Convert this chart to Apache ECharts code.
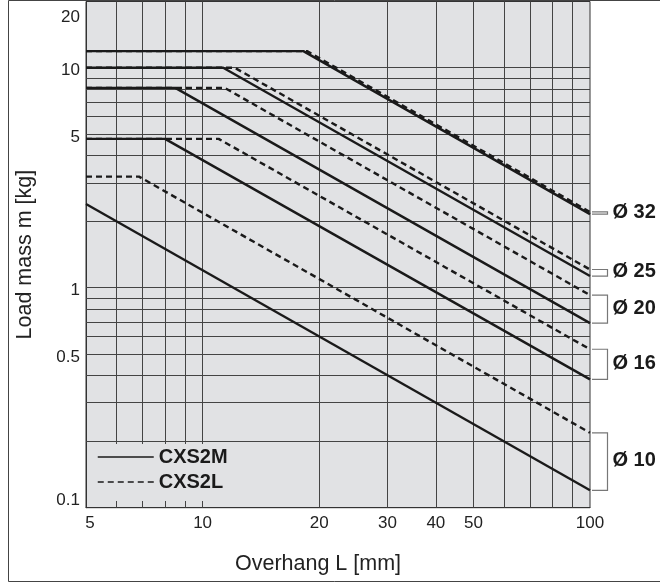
<!DOCTYPE html>
<html>
<head>
<meta charset="utf-8">
<script src="https://cdn.jsdelivr.net/npm/echarts@6/dist/echarts.min.js"></script>
<style>
html,body{margin:0;padding:0;background:#fff;}
#c{width:660px;height:582px;}
</style>
</head>
<body>
<div id="c"></div>
<script>
// ---- data ----
const xTickLabels = [5, 10, 20, 30, 40, 50, 100];
const yTickLabels = [0.1, 0.5, 1, 5, 10, 20];
const xGridValues = [6, 7, 8, 9, 10, 20, 30, 40, 50, 60, 70, 80, 90];
const yGridValues = [0.2, 0.3, 0.4, 0.5, 0.6, 0.7, 0.8, 0.9, 1, 2, 3, 4, 5, 6, 7, 8, 9, 10];

const legendNames = ['CXS2M', 'CXS2L'];
const boreLabels = ['Ø 32', 'Ø 25', 'Ø 20', 'Ø 16', 'Ø 10'];

// [overhang L (mm), load mass m (kg)]
const phi32M = [[5, 11.9], [18.2, 11.9], [100, 2.16]];
const phi32L = [[5, 11.9], [18.6, 11.9], [100, 2.21]];
const phi25M = [[5, 10], [11.3, 10], [100, 1.13]];
const phi25L = [[5, 10], [12.1, 10], [100, 1.21]];
const phi20M = [[5, 8.1], [8.5, 8.1], [100, 0.69]];
const phi20L = [[5, 8.1], [11.4, 8.1], [100, 0.925]];
const phi16M = [[5, 4.75], [8.0, 4.75], [100, 0.383]];
const phi16L = [[5, 4.75], [11.0, 4.75], [100, 0.525]];
const phi10M = [[5, 2.4], [100, 0.12]];
const phi10L = [[5, 3.2], [6.85, 3.2], [100, 0.219]];

const solidSets = [phi32M, phi25M, phi20M, phi16M, phi10M];
const dashedSets = [phi32L, phi25L, phi20L, phi16L, phi10L];

// ---- chart ----
const FONT = '"Liberation Sans", Arial, Helvetica, sans-serif';
const INK = '#1a1a1a';
const chart = echarts.init(document.getElementById('c'), null, {renderer: 'canvas'});

function mkSeries(name, data, dashed) {
  return {
    type: 'line', name: name, data: data, symbol: 'none', silent: true,
    animation: false, z: dashed ? 3 : 4,
    itemStyle: {color: INK},
    lineStyle: {color: INK, width: 2.4, type: dashed ? [6, 4] : 'solid'}
  };
}

const series = [];
dashedSets.forEach(d => series.push(mkSeries(legendNames[1], d, true)));
solidSets.forEach(d => series.push(mkSeries(legendNames[0], d, false)));

series.push({
  type: 'line', name: 'grid', data: [], silent: true, animation: false,
  markLine: {
    z: 1, silent: true, animation: false, symbol: ['none', 'none'],
    label: {show: false},
    lineStyle: {color: '#444', width: 1, type: 'solid'},
    emphasis: {disabled: true},
    data: xGridValues.map(v => ({xAxis: v})).concat(yGridValues.map(v => ({yAxis: v})))
  }
});

function fmt(v) { return String(+(+v).toPrecision(6)); }

const option = {
  animation: false,
  backgroundColor: '#ffffff',
  grid: {
    left: 86, right: 70, top: 1.5, bottom: 74.3,
    show: true, backgroundColor: '#e1e2e4', borderColor: '#333', borderWidth: 1
  },
  legend: {
    data: legendNames,
    orient: 'vertical', left: 87, top: 444,
    padding: [3, 20, 9, 10],
    backgroundColor: '#e1e2e4',
    itemWidth: 56, itemHeight: 14, itemGap: 5,
    selectedMode: false,
    itemStyle: {opacity: 0},
    lineStyle: {width: 1.5, color: INK},
    textStyle: {fontFamily: FONT, fontWeight: 'bold', fontSize: 20, color: INK}
  },
  xAxis: {
    type: 'log', logBase: 10, min: 5, max: 100,
    axisLine: {show: true, lineStyle: {color: '#333', width: 1}},
    axisTick: {show: false},
    splitLine: {show: false},
    axisLabel: {
      customValues: xTickLabels, margin: 7,
      fontFamily: FONT, fontSize: 17, color: '#222',
      formatter: v => (fmt(v) === '5' ? '{f|5}' : fmt(v)),
      rich: {f: {fontFamily: FONT, fontSize: 17, color: '#222', padding: [0, 0, 0, 8]}}
    },
    name: 'Overhang L [mm]', nameLocation: 'middle', nameGap: 45,
    nameTextStyle: {fontFamily: FONT, fontSize: 21.5, color: '#222', padding: [0, 40, 0, 0]}
  },
  yAxis: {
    type: 'log', logBase: 10, min: 0.1, max: 20,
    axisLine: {show: true, lineStyle: {color: '#333', width: 1}},
    axisTick: {show: false},
    splitLine: {show: false},
    axisLabel: {
      customValues: yTickLabels, margin: 6,
      fontFamily: FONT, fontSize: 17, color: '#222',
      formatter: v => {
        const s = fmt(v);
        if (s === '20') return '{t|' + s + '}';
        if (s === '0.1') return '{b|' + s + '}';
        return '{n|' + s + '}';
      },
      rich: {
        t: {fontFamily: FONT, fontSize: 17, color: '#222', padding: [31, 0, 0, 0]},
        b: {fontFamily: FONT, fontSize: 17, color: '#222', padding: [0, 0, 14, 0]},
        n: {fontFamily: FONT, fontSize: 17, color: '#222', padding: [6, 0, 0, 0]}
      }
    },
    name: 'Load mass m [kg]', nameLocation: 'middle', nameGap: 50, nameRotate: 90,
    nameTextStyle: {fontFamily: FONT, fontSize: 21.5, color: '#222'}
  },
  series: series
};
chart.setOption(option);

// brackets + bore labels on the right, positioned through the axes
const graphics = [{
  type: 'rect', silent: true, z: 100,
  shape: {x: 8.5, y: 0.5, width: 660, height: 581},
  style: {fill: null, stroke: '#444', lineWidth: 1}
}];
boreLabels.forEach((lab, i) => {
  const dEnd = dashedSets[i][dashedSets[i].length - 1];
  const sEnd = solidSets[i][solidSets[i].length - 1];
  const p1 = chart.convertToPixel({gridIndex: 0}, dEnd);
  const p2 = chart.convertToPixel({gridIndex: 0}, sEnd);
  const x0 = p1[0] + 2, x1 = p1[0] + 17.5;
  graphics.push({
    type: 'polyline', silent: true, z: 100,
    shape: {points: [[x0, p1[1]], [x1, p1[1]], [x1, p2[1]], [x0, p2[1]]]},
    style: {fill: null, stroke: '#777', lineWidth: 1.2}
  });
  graphics.push({
    type: 'text', silent: true, z: 100,
    x: x1 + 5, y: (p1[1] + p2[1]) / 2 - 1,
    style: {text: lab, fontFamily: FONT, fontWeight: 'bold', fontSize: 20, fill: INK,
            verticalAlign: 'middle', align: 'left'}
  });
});
chart.setOption({graphic: graphics});
</script>
</body>
</html>
